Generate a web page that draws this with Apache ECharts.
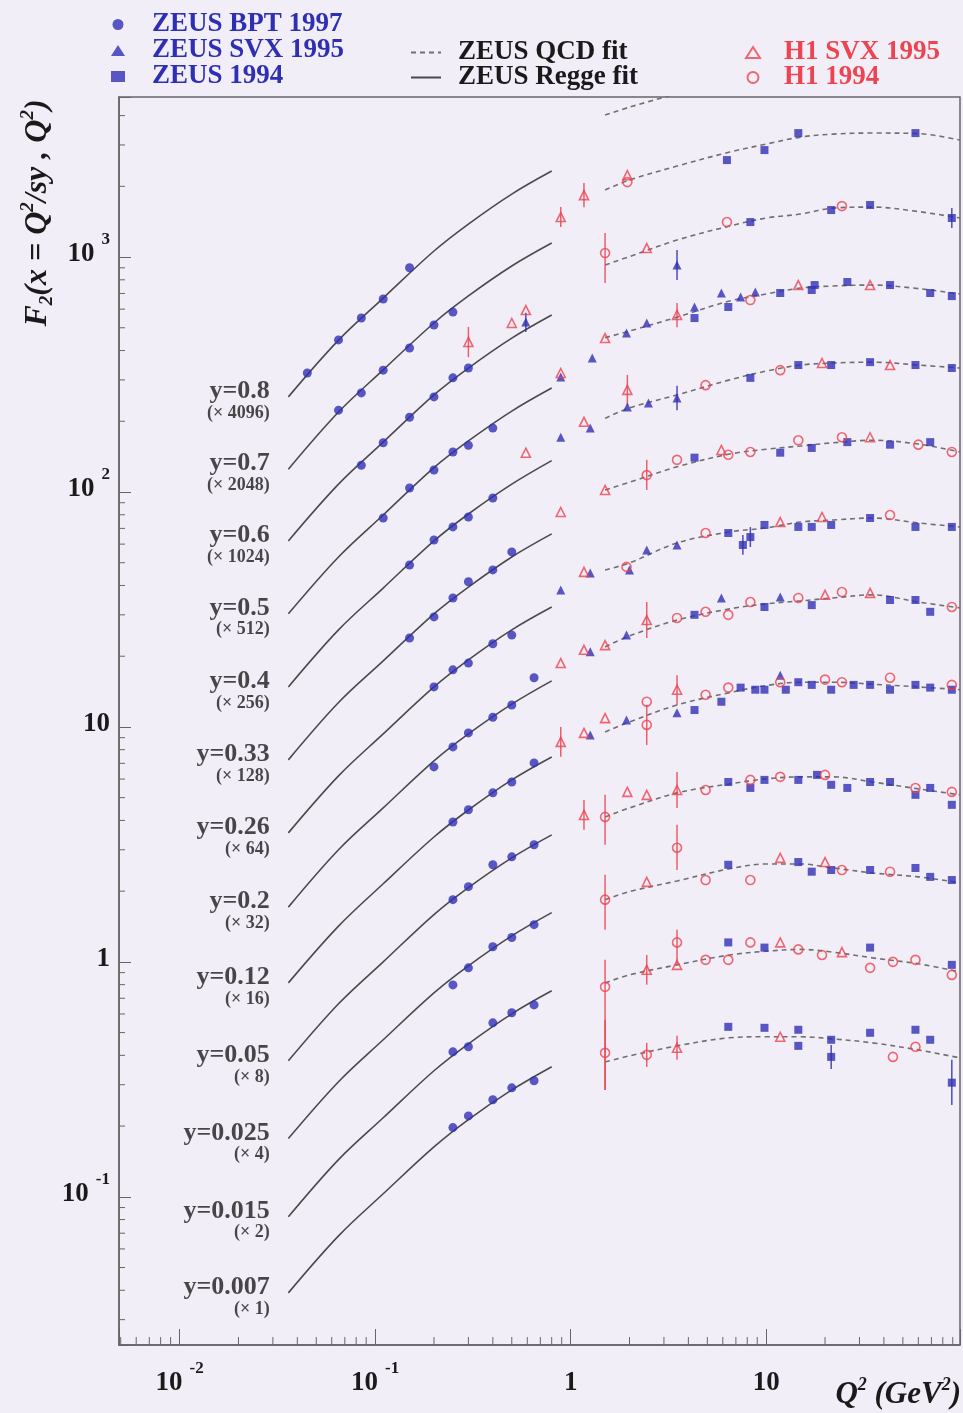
<!DOCTYPE html>
<html><head><meta charset="utf-8">
<script src="https://cdn.jsdelivr.net/npm/echarts@6/dist/echarts.min.js"></script>
<style>html,body{margin:0;padding:0;background:#f2eef8;}#c{width:963px;height:1413px;}</style>
</head><body><div id="c"></div>
<script>
// ---------------- data (values include the (x factor) scaling) ----------------
const yBins   = ['0.8','0.7','0.6','0.5','0.4','0.33','0.26','0.2','0.12','0.05','0.025','0.015','0.007'];
const factors = [4096,2048,1024,512,256,128,64,32,16,8,4,2,1];

const reggeQ2 = [0.036,0.065,0.11,0.2,0.3,0.5,0.8];
const reggeFit = [
  [254,443,669,1061,1382,1854,2323],
  [125,219,331,524,683,916,1147],
  [61.9,108,163,259,337,452,567],
  [30.3,52.9,79.8,127,165,221,277],
  [14.8,25.9,39.0,61.9,80.6,108,136],
  [7.24,12.7,19.1,30.3,39.4,52.9,66.3],
  [3.54,6.19,9.34,14.8,19.3,25.9,32.4],
  [1.71,3.00,4.52,7.17,9.34,12.5,15.7],
  [0.814,1.42,2.15,3.40,4.43,5.95,7.45],
  [0.379,0.663,1.00,1.59,2.07,2.77,3.47],
  [0.177,0.309,0.466,0.738,0.962,1.29,1.62],
  [0.0822,0.144,0.217,0.344,0.448,0.601,0.753],
  [0.0390,0.0682,0.103,0.163,0.213,0.285,0.358]
];

const qcdQ2 = [1.5,2,3.5,6.5,10,15,22,35,60,98];
const qcdFit = [
  [4021,4345,4961,null,null,null,null,null,null,null],
  [1928,2127,2439,2798,3026,3240,3337,3371,3354,3147],
  [925,1005,1181,1355,1466,1524,1616,1632,1562,1466],
  [454,484,555,650,696,738,753,760,734,696],
  [206,228,259,300,327,347,354,357,347,337],
  [102,110,128,145,152,157,162,166,160,148],
  [46.6,49.9,60.7,67.6,70.3,74.5,76.0,77.5,73.8,71.0],
  [21.9,24.4,28.5,31.8,33.4,34.4,35.4,36.5,34.0,32.1],
  [9.52,10.5,12.4,14.0,15.0,15.5,15.5,15.2,14.8,14.4],
  [4.14,4.52,5.24,5.72,6.01,6.13,6.13,5.83,5.45,5.14],
  [1.84,1.99,2.21,2.49,2.61,2.61,2.51,2.39,2.30,2.17],
  [0.814,0.880,0.971,1.07,1.11,1.13,1.10,1.04,0.981,0.907],
  [0.375,0.398,0.439,0.475,0.480,0.480,0.470,0.452,0.422,0.390]
];

const zeusBPT97 = [
  [[0.045,321],[0.065,444],[0.085,550],[0.11,663],[0.15,900]],
  [[0.065,223],[0.085,264],[0.11,330],[0.15,410],[0.2,514],[0.25,583]],
  [[0.085,130],[0.11,162],[0.15,208],[0.2,254],[0.25,306],[0.3,337]],
  [[0.11,77.5],[0.15,104],[0.2,124],[0.25,148],[0.3,158],[0.4,187]],
  [[0.15,48.9],[0.2,62.5],[0.25,71.0],[0.3,78.3],[0.4,94.3]],
  [[0.15,23.9],[0.2,29.4],[0.25,35.4],[0.3,41.5],[0.4,46.6],[0.5,55.6]],
  [[0.2,14.8],[0.25,17.5],[0.3,18.7],[0.4,22.6],[0.5,24.6]],
  [[0.2,6.76],[0.25,8.22],[0.3,9.43],[0.4,11.0],[0.5,12.4],[0.65,16.2]],
  [[0.25,3.94],[0.3,4.44],[0.4,5.24],[0.5,5.83],[0.65,7.03]],
  [[0.25,1.84],[0.3,2.09],[0.4,2.59],[0.5,2.80],[0.65,3.15]],
  [[0.25,0.798],[0.3,0.943],[0.4,1.16],[0.5,1.27],[0.65,1.44]],
  [[0.25,0.414],[0.3,0.435],[0.4,0.550],[0.5,0.607],[0.65,0.656]],
  [[0.25,0.197],[0.3,0.221],[0.4,0.259],[0.5,0.291],[0.65,0.312]]
];
const zeusSVX95 = [
  [], [],
  [[0.59,529],[3.5,925]],
  [[0.89,309],[1.29,372],[1.93,475],[2.45,524],[4.3,613],[5.9,703],[7.4,676],[8.8,710]],
  [[0.89,171],[1.26,187],[1.95,230],[2.5,239],[3.5,251]],
  [],
  [[0.89,38.3],[1.26,45.2],[2.0,46.6],[2.45,56.7],[3.5,59.5]],
  [[1.26,20.9],[1.93,24.6],[5.9,35.4],[11.8,35.7]],
  [[1.26,9.25],[1.93,10.7],[3.5,11.5],[11.8,16.6]],
  [], [], [], []
];
const zeus94 = [
  [],
  [[6.3,2587],[9.8,2853],[14.6,3370],[58,3370]],
  [[8.3,1409],[21.5,1585],[34,1665],[89,1466]],
  [[4.3,550],[6.4,613],[11.8,703],[17.1,724],[17.7,760],[26,783],[43,760],[69,703],[89,682]],
  [[8.3,306],[14.6,347],[21.5,347],[34,357],[58,347],[89,337]],
  [[4.3,140],[11.8,147],[17.1,154],[26,163],[43,159],[69,163]],
  [[6.4,66.9],[7.6,59.5],[8.3,64.3],[9.8,72.4],[14.6,71.0],[17.1,71.0],[21.5,72.4],[34,77.5],[58,71.0],[89,71.0]],
  [[4.3,30.0],[9.8,32.4],[17.1,33.0],[43,34.7],[58,34.7],[69,30.9]],
  [[4.3,11.8],[5.9,12.8],[7.4,14.7],[8.8,14.4],[9.8,14.4],[12.6,14.4],[14.6,15.5],[17.1,15.1],[21.5,14.4],[28,15.1],[34,15.1],[43,14.4],[58,15.1],[69,14.7],[89,14.4]],
  [[6.4,5.83],[8.3,5.50],[9.8,5.95],[14.6,5.95],[18.2,6.25],[21.5,5.67],[26,5.50],[34,5.83],[43,5.83],[58,5.14],[69,5.50],[89,4.66]],
  [[6.4,2.59],[14.6,2.66],[17.1,2.42],[21.5,2.46],[34,2.46],[58,2.51],[69,2.30],[89,2.23]],
  [[6.4,1.21],[9.8,1.15],[34,1.15],[89,0.971]],
  [[6.4,0.529],[9.8,0.524],[14.6,0.514],[14.6,0.439],[21.5,0.466],[21.5,0.394],[34,0.499],[58,0.514],[69,0.466],[89,0.306]]
];
const h1SVX95 = [
  [],
  [[0.89,1480],[1.17,1835],[1.95,2233]],
  [[0.3,435],[0.5,524],[0.59,595],[2.45,1092]],
  [[0.89,321],[1.5,452],[3.5,567],[14.6,760],[34,760]],
  [[0.59,147],[1.17,199],[1.95,272],[19.3,354],[43,347]],
  [[0.89,82.2],[1.5,102],[5.9,151],[34,171]],
  [[1.17,45.7],[11.8,74.5],[19.3,78.3]],
  [[0.89,18.7],[1.17,21.3],[1.5,22.3],[2.45,28.5],[20,36.5],[34,37.2]],
  [[0.89,8.64],[1.17,9.43],[1.5,10.9],[3.5,14.4]],
  [[1.17,4.22],[1.95,5.29],[2.45,5.14],[3.5,5.39]],
  [[2.45,2.19],[11.8,2.77],[20,2.66]],
  [[2.45,0.925],[3.5,0.971],[11.8,1.21],[24.4,1.10]],
  [[3.5,0.431],[11.8,0.480]]
];
const h1_94 = [
  [],
  [[1.95,2085]],
  [[1.5,1040],[6.3,1409],[24.4,1648]],
  [[8.3,656]],
  [[4.9,285],[11.8,330]],
  [[2.45,118],[3.5,137],[6.4,144],[8.3,148],[14.6,166],[24.4,171],[60,159],[89,148]],
  [[1.93,48.0],[4.9,66.9],[43,79.8]],
  [[3.5,29.1],[4.9,30.9],[6.4,30.0],[8.3,34.0],[14.6,35.4],[24.4,37.5],[89,32.4]],
  [[2.45,12.8],[2.45,10.2],[4.9,13.7],[6.4,14.7],[11.8,15.5],[20,15.9],[24.4,15.5],[43,16.2],[89,15.1]],
  [[1.5,4.14],[4.9,5.39],[8.3,5.95],[11.8,6.13],[20,6.25],[58,5.50],[89,5.29]],
  [[1.5,1.84],[3.5,3.06],[4.9,2.23],[8.3,2.23],[24.4,2.46],[43,2.42]],
  [[1.5,0.783],[3.5,1.21],[4.9,1.02],[6.4,1.02],[8.3,1.21],[14.6,1.13],[19.3,1.07],[34,0.943],[44.5,1.00],[58,1.02],[89,0.880]],
  [[1.5,0.410],[2.45,0.402],[44.5,0.394],[58,0.435]]
];
// error bars: [Q2, low, high, 0 = ZEUS (blue) / 1 = H1 (red)]
const errorBars = [
  [0.89,1342,1632,1],[1.17,1631,2064,1],
  [0.3,375,504,1],[1.5,775,1265,1],[3.5,798,1071,0],[89,1329,1617,0],[0.59,480,580,0],
  [3.5,503,637,1],
  [1.95,234,315,1],[3.5,223,283,0],
  [2.45,102,137,1],
  [8.3,58.3,70.9,0],[7.6,54.0,65.6,0],
  [2.45,23.9,34.0,1],
  [0.89,7.46,10.0,1],[2.45,8.38,12.4,1],[3.5,12.4,16.6,1],
  [1.5,3.15,5.14,1],[3.5,4.52,6.43,1],[1.17,3.65,4.89,1],
  [1.5,1.37,2.35,1],[3.5,2.46,3.83,1],
  [1.5,0.285,1.02,1],[3.5,0.971,1.37,1],[2.45,0.80,1.07,1],
  [1.5,0.285,0.567,1],[21.5,0.350,0.443,0],[89,0.246,0.383,0],[3.5,0.383,0.485,1],[2.45,0.357,0.452,1]
];
const X_MIN = 0.0049, X_MAX = 98, Y_MIN = 0.0234, Y_MAX = 4800;
const minorMults = [2,3,4,5,6,7,8,9];
const xDecades = [0.001,0.01,0.1,1,10];
const yDecades = [0.01,0.1,1,10,100,1000];

// ---------------- styling ----------------
const BG = '#f2eef8', BLUE = '#2f2fb4', RED = '#ec4450', AXIS = '#666', FIT = '#4a4a4a';
const SERIF = '"Liberation Serif","DejaVu Serif",serif';

const xMinor = [], yMinor = [];
xDecades.forEach(d => minorMults.forEach(m => { const v = d*m; if (v > X_MIN && v < X_MAX) xMinor.push([v, Y_MIN]); }));
yDecades.forEach(d => minorMults.forEach(m => { const v = d*m; if (v > Y_MIN && v < Y_MAX) yMinor.push([X_MIN, v]); }));

function powLabel(v){
  const l = Math.log10(v), e = Math.round(l);
  if (Math.abs(l - e) > 1e-6) return '';
  if (e === 0) return '{b|1}';
  if (e === 1) return '{b|10}';
  return '{b|10}{s|' + e + '}';
}
const axisRich = {
  b:{fontFamily:SERIF, fontWeight:'bold', fontSize:27, color:'#1a1a1a', lineHeight:46},
  s:{fontFamily:SERIF, fontWeight:'bold', fontSize:17, color:'#1a1a1a', verticalAlign:'top', lineHeight:18, padding:[0,0,0,7]}
};

const series = [];
reggeFit.forEach((vals,k) => series.push({
  name:'ZEUS Regge fit', type:'line', smooth:0.35, symbol:'none', silent:true, z:2,
  lineStyle:{color:FIT, width:1.6, type:'solid'}, itemStyle:{color:FIT},
  data: vals.map((v,i) => [reggeQ2[i], v])
}));
qcdFit.forEach((vals,k) => series.push({
  name:'ZEUS QCD fit', type:'line', smooth:0.35, symbol:'none', silent:true, z:2,
  lineStyle:{color:'#707070', width:1.6, type:[5,4]}, itemStyle:{color:'#707070'},
  data: vals.map((v,i) => [qcdQ2[i], v])
}));
series.push({
  name:'binLabels', type:'scatter', symbolSize:1, silent:true, z:6,
  itemStyle:{color:'rgba(0,0,0,0)'},
  data: reggeFit.map((vals,k) => ({
    value:[reggeQ2[0], vals[0]],
    label:{show:true, position:'left', distance:18, offset:[0,5],
      formatter:'{a|y=' + yBins[k] + '}\n{c|(× ' + factors[k] + ')}',
      rich:{
        a:{fontFamily:SERIF, fontWeight:'bold', fontSize:26, color:'#1a1a1a', lineHeight:22, align:'right'},
        c:{fontFamily:SERIF, fontWeight:'bold', fontSize:18, color:'#1a1a1a', lineHeight:21, align:'right'}
      }}
  }))
});
series.push({
  name:'errors', type:'custom', silent:true, z:3, encode:{x:0, y:[1,2]},
  data: errorBars,
  renderItem:(params, api) => {
    const q = api.value(0), a = api.coord([q, api.value(1)]), b = api.coord([q, api.value(2)]);
    return {type:'line', shape:{x1:a[0], y1:a[1], x2:b[0], y2:b[1]},
      style:{stroke: api.value(3) ? RED : BLUE, lineWidth:1.5, opacity:0.85}};
  }
});
const flat = arr => arr.reduce((acc, a) => acc.concat(a), []);
series.push({name:'ZEUS BPT 1997', type:'scatter', symbol:'circle', symbolSize:9, z:4,
  itemStyle:{color:BLUE}, data: flat(zeusBPT97)});
series.push({name:'ZEUS SVX 1995', type:'scatter', symbol:'triangle', symbolSize:9, z:4,
  itemStyle:{color:BLUE}, data: flat(zeusSVX95)});
series.push({name:'ZEUS 1994', type:'scatter', symbol:'rect', symbolSize:8, z:4,
  itemStyle:{color:BLUE}, data: flat(zeus94)});
series.push({name:'H1 SVX 1995', type:'scatter', symbol:'triangle', symbolSize:9, z:5,
  itemStyle:{color:'rgba(0,0,0,0)', borderColor:RED, borderWidth:1.6}, data: flat(h1SVX95)});
series.push({name:'H1 1994', type:'scatter', symbol:'circle', symbolSize:9, z:5,
  itemStyle:{color:'rgba(0,0,0,0)', borderColor:RED, borderWidth:1.6}, data: flat(h1_94)});
series.push({name:'xMinor', type:'custom', silent:true, z:7, clip:false, encode:{x:0, y:1}, data:xMinor,
  renderItem:(params, api) => { const p = api.coord([api.value(0), Y_MIN]);
    return {type:'line', shape:{x1:p[0], y1:p[1], x2:p[0], y2:p[1]-8}, style:{stroke:AXIS, lineWidth:1}}; }});
series.push({name:'yMinor', type:'custom', silent:true, z:7, clip:false, encode:{x:0, y:1}, data:yMinor,
  renderItem:(params, api) => { const p = api.coord([X_MIN, api.value(1)]);
    return {type:'line', shape:{x1:p[0], y1:p[1], x2:p[0]+6, y2:p[1]}, style:{stroke:AXIS, lineWidth:1}}; }});

const legendText = c => ({color:c, fontFamily:SERIF, fontWeight:'bold', fontSize:27});
const option = {
  backgroundColor: BG,
  animation:false,
  grid:{left:119, right:2, top:97, bottom:68, show:true, borderColor:AXIS, borderWidth:1.5, backgroundColor:'transparent'},
  legend:[
    {data:['ZEUS BPT 1997','ZEUS SVX 1995','ZEUS 1994'], orient:'vertical', left:111, top:11,
     itemWidth:14, itemHeight:11, itemGap:-1, padding:0, selectedMode:false,
     textStyle:Object.assign(legendText(BLUE), {padding:[0,0,0,22]})},
    {data:['ZEUS QCD fit','ZEUS Regge fit'], orient:'vertical', left:410, top:39,
     itemWidth:30, itemHeight:12, itemGap:-2, padding:0, selectedMode:false,
     itemStyle:{opacity:0},
     textStyle:Object.assign(legendText('#1a1a1a'), {padding:[0,0,0,12]})},
    {data:['H1 SVX 1995','H1 1994'], orient:'vertical', left:745, top:39,
     itemWidth:14, itemHeight:11, itemGap:-2, padding:0, selectedMode:false,
     textStyle:Object.assign(legendText(RED), {padding:[0,0,0,19]})}
  ],
  xAxis:{type:'log', logBase:10, min:X_MIN, max:X_MAX,
    axisLine:{show:true, lineStyle:{color:AXIS, width:1.5}},
    axisTick:{show:true, inside:true, length:16, lineStyle:{color:AXIS}},
    splitLine:{show:false},
    axisLabel:{margin:15, formatter:powLabel, rich:axisRich}},
  yAxis:{type:'log', logBase:10, min:Y_MIN, max:Y_MAX,
    axisLine:{show:true, lineStyle:{color:AXIS, width:1.5}},
    axisTick:{show:true, inside:true, length:12, lineStyle:{color:AXIS}},
    splitLine:{show:false},
    axisLabel:{margin:9, padding:[0,0,6,0], formatter:powLabel, rich:axisRich}},
  graphic:[
    {type:'text', x:38, y:213, rotation:Math.PI/2, z:10,
     style:{text:'{i|F}{u|2}{n|(}{i|x}{n| = }{i|Q}{p|2}{n|/}{i|sy}{n| , }{i|Q}{p|2}{n|)}',
       align:'center', verticalAlign:'middle',
       rich:{
         i:{fontFamily:SERIF, fontStyle:'italic', fontWeight:'bold', fontSize:32, fill:'#1a1a1a', lineHeight:38},
         n:{fontFamily:SERIF, fontStyle:'italic', fontWeight:'bold', fontSize:32, fill:'#1a1a1a', lineHeight:38},
         u:{fontFamily:SERIF, fontStyle:'italic', fontWeight:'bold', fontSize:19, fill:'#1a1a1a', verticalAlign:'bottom', lineHeight:19},
         p:{fontFamily:SERIF, fontStyle:'italic', fontWeight:'bold', fontSize:19, fill:'#1a1a1a', verticalAlign:'top', lineHeight:19}
       }}},
    {type:'text', x:961, y:1395, z:10,
     style:{text:'{i|Q}{p|2}{n| (GeV}{p|2}{n|)}', align:'right', verticalAlign:'middle',
       rich:{
         i:{fontFamily:SERIF, fontStyle:'italic', fontWeight:'bold', fontSize:31, fill:'#1a1a1a', lineHeight:38},
         n:{fontFamily:SERIF, fontStyle:'italic', fontWeight:'bold', fontSize:31, fill:'#1a1a1a', lineHeight:38},
         p:{fontFamily:SERIF, fontStyle:'italic', fontWeight:'bold', fontSize:18, fill:'#1a1a1a', verticalAlign:'top', lineHeight:18}
       }}}
  ],
  series: series
};
const chart = echarts.init(document.getElementById('c'), null, {renderer:'canvas', width:963, height:1413});
chart.setOption(option);
</script></body></html>
